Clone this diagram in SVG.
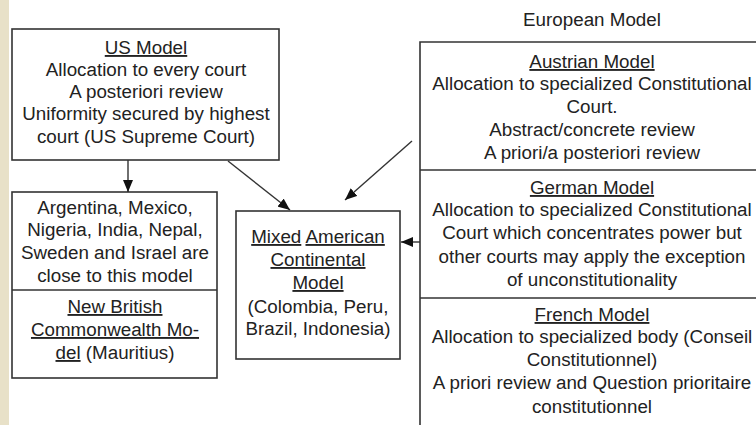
<svg xmlns="http://www.w3.org/2000/svg" width="756" height="425" viewBox="0 0 756 425">
<style>
text{font-family:"Liberation Sans",Arial,sans-serif;font-size:18.8px;fill:#222;text-anchor:middle}
.u{text-decoration:underline}
.box{fill:none;stroke:#333;stroke-width:1.6}
.ln{fill:none;stroke:#333;stroke-width:1.4}
</style>
<defs>
<marker id="ah" markerUnits="userSpaceOnUse" markerWidth="12" markerHeight="10" refX="12" refY="5" orient="auto">
<path d="M0,0 L12,5 L0,10 z" fill="#111"/>
</marker>
</defs>
<rect x="0" y="0" width="756" height="425" fill="#fff"/>
<rect x="0" y="0" width="9" height="425" fill="#e8e1c8"/>

<g id="us-model">
<rect class="box" x="12" y="29" width="267" height="131"/>
<text x="146" y="54"><tspan class="u">US Model</tspan></text>
<text x="146" y="76">Allocation to every court</text>
<text x="146" y="98">A posteriori review</text>
<text x="146" y="120">Uniformity secured by highest</text>
<text x="146" y="143">court (US Supreme Court)</text>
</g>

<g id="close-countries">
<rect class="box" x="12" y="192" width="205" height="186"/>
<line class="box" x1="12" y1="290" x2="217" y2="290"/>
<text x="115" y="214">Argentina, Mexico,</text>
<text x="115" y="236">Nigeria, India, Nepal,</text>
<text x="115" y="259">Sweden and Israel are</text>
<text x="115" y="282">close to this model</text>
<text x="115" y="313"><tspan class="u">New British</tspan></text>
<text x="115" y="336"><tspan class="u">Commonwealth Mo-</tspan></text>
<text x="115" y="359"><tspan class="u">del</tspan> (Mauritius)</text>
</g>

<g id="mixed-model">
<rect class="box" x="236" y="211" width="164" height="148"/>
<text x="318" y="243"><tspan class="u">Mixed</tspan> <tspan class="u">American</tspan></text>
<text x="318" y="266"><tspan class="u">Continental</tspan></text>
<text x="318" y="289"><tspan class="u">Model</tspan></text>
<text x="318" y="313">(Colombia, Peru,</text>
<text x="318" y="335">Brazil, Indonesia)</text>
</g>

<g id="european-model">
<text x="592" y="26">European Model</text>
<path class="box" d="M756,42 H420 V425"/>
<line class="box" x1="420" y1="170" x2="756" y2="170"/>
<line class="box" x1="420" y1="298" x2="756" y2="298"/>
</g>

<g id="austrian-model">
<text x="592" y="68"><tspan class="u">Austrian Model</tspan></text>
<text x="592" y="90">Allocation to specialized Constitutional</text>
<text x="592" y="113">Court.</text>
<text x="592" y="136">Abstract/concrete review</text>
<text x="592" y="159">A priori/a posteriori review</text>
</g>

<g id="german-model">
<text x="592" y="194"><tspan class="u">German Model</tspan></text>
<text x="592" y="216">Allocation to specialized Constitutional</text>
<text x="592" y="239">Court which concentrates power but</text>
<text x="592" y="263">other courts may apply the exception</text>
<text x="592" y="286">of unconstitutionality</text>
</g>

<g id="french-model">
<text x="592" y="321"><tspan class="u">French Model</tspan></text>
<text x="592" y="343">Allocation to specialized body (Conseil</text>
<text x="592" y="366">Constitutionnel)</text>
<text x="592" y="389">A priori review and Question prioritaire</text>
<text x="592" y="413">constitutionnel</text>
</g>

<g id="connectors">
<line class="ln" x1="128" y1="160" x2="128" y2="192" marker-end="url(#ah)"/>
<line class="ln" x1="228" y1="161" x2="290" y2="210" marker-end="url(#ah)"/>
<line class="ln" x1="412" y1="141" x2="345" y2="200" marker-end="url(#ah)"/>
<line class="ln" x1="420" y1="242" x2="401" y2="242" marker-end="url(#ah)"/>
</g>
</svg>
